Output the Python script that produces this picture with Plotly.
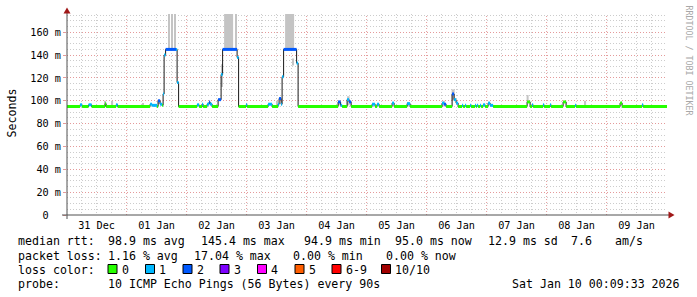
import plotly.graph_objects as go

# ---------------- data ----------------
day_labels = ["31 Dec", "01 Jan", "02 Jan", "03 Jan", "04 Jan",
              "05 Jan", "06 Jan", "07 Jan", "08 Jan", "09 Jan"]
t_start_h = 0.16      # hours after 31 Dec 00:00  (window start)
t_end_h = 240.16      # window end: Sat Jan 10 00:09:33 2026

y_tick_vals = [0, 20, 40, 60, 80, 100, 120, 140, 160]
y_tick_text = ["0\u00a0\u00a0", "20 m", "40 m", "60 m", "80 m",
               "100 m", "120 m", "140 m", "160 m"]

# median rtt steps: start hour, median (ms), lost pings (of 10)
step_h = [0.16, 5.4, 6.2, 8.8, 10.0, 15.4, 15.8, 19.8, 20.4,
          33.4, 34.2, 36.2, 36.6, 37.4, 38.2, 38.6, 39.0, 39.6, 43.8, 44.2, 44.8,
          52.2, 53.0, 54.2, 54.6, 56.2, 57.0, 57.4, 58.2, 60.6, 61.8, 62.4, 68.2, 68.8,
          71.8, 72.2, 80.6, 82.2, 84.6, 85.0, 85.8, 86.2, 86.8, 92.0, 92.6,
          108.6, 109.6, 110.2, 112.2, 113.0, 113.8,
          122.2, 123.4, 124.2, 125.0, 130.2, 131.0, 136.2, 137.4,
          150.2, 151.0, 151.8, 154.2, 155.0, 155.8, 156.6,
          158.2, 158.6, 159.4, 159.8, 161.4, 161.8, 163.4, 163.8, 164.2, 164.6,
          165.4, 165.8, 166.6, 167.4, 168.6, 169.4, 170.6,
          184.2, 185.4, 186.2, 186.6, 190.6, 191.0, 193.4, 193.8,
          198.6, 199.8, 203.4, 203.8, 221.4, 222.2, 230.2, 230.6]
step_ms = [95, 96.5, 95, 96.5, 95, 97.5, 95, 96.5, 95,
           97, 96, 95, 100, 97, 96, 106, 140, 145, 145, 116, 95,
           96.5, 95, 97, 95, 97, 99, 97, 95, 101, 123, 145, 138, 95,
           96.5, 95, 97, 95, 97, 102, 97, 121, 145, 133, 95,
           99, 96, 95, 101, 99, 95,
           97, 95, 97, 95, 98, 95, 97.5, 95,
           98, 97, 95, 106, 101, 98, 95,
           96, 95, 96, 95, 96, 95, 96, 95, 96, 95,
           96, 95, 96.5, 95, 98, 96, 95,
           99, 95, 96.5, 95, 96.5, 95, 96.5, 95,
           99, 95, 96, 95, 98, 95, 96.5, 95]
step_loss = [0, 1, 0, 1, 0, 0, 0, 1, 0,
             1, 1, 0, 2, 1, 0, 1, 1, 2, 1, 1, 0,
             1, 0, 1, 0, 1, 2, 1, 0, 2, 1, 2, 1, 0,
             1, 0, 1, 0, 1, 2, 1, 1, 2, 1, 0,
             2, 1, 0, 1, 2, 0,
             1, 0, 1, 0, 1, 0, 1, 0,
             1, 2, 0, 2, 1, 1, 0,
             1, 0, 1, 0, 1, 0, 1, 0, 1, 0,
             1, 0, 1, 0, 1, 1, 0,
             0, 0, 1, 0, 1, 0, 1, 0,
             0, 0, 1, 0, 0, 0, 1, 0]

# smoke (ping spread): start hour, end hour, low ms, high ms
smoke_t0 = [15.2, 18.0, 30.4, 36.4, 40.6, 41.8, 43.0, 61.8, 63.0, 67.4,
            83.8, 87.4, 90.2, 108.8, 112.2, 136.4, 150.6, 154.0, 184.0, 207.2]
smoke_t1 = [15.8, 18.6, 30.8, 37.2, 41.0, 42.2, 43.4, 62.4, 66.6, 67.8,
            84.4, 91.0, 90.8, 109.4, 113.2, 137.0, 151.4, 155.2, 184.8, 207.8]
smoke_lo = [95, 95, 95, 97, 145, 145, 145, 112, 145, 145,
            95, 145, 131, 96, 96, 95, 95, 100, 99, 95]
smoke_hi = [100, 100, 98, 101, 180, 180, 180, 132, 180, 180,
            100, 180, 137, 100, 104, 99, 100, 110, 105, 100]

loss_names = ["0", "1", "2", "3", "4", "5", "6-9", "10/10"]
loss_colors = ["#26ff00", "#00b8ff", "#0059ff", "#7e00ff",
               "#ff00ff", "#ff5e00", "#ff0000", "#a10000"]

rtt_stats = ["98.9 ms avg", "145.4 ms max", "94.9 ms min", "95.0 ms now",
             "12.9 ms sd", "7.6", "am/s"]
loss_stats = ["1.16 % avg", "17.04 % max", "0.00 % min", "0.00 % now"]
probe_text = "10 ICMP Echo Pings (56 Bytes) every 90s"
stamp_text = "Sat Jan 10 00:09:33 2026"

# ---------------- helpers ----------------
W, H = 697, 297
L, R, T, B = 67, 667, 14, 215


def px(x):
    return (x - L) / (R - L)


def py(y):
    return (B - y) / (B - T)


def loss_cat(n):
    if n <= 5:
        return n
    if n < 10:
        return 6
    return 7


FONT = "DejaVu Sans Mono"

fig = go.Figure()

# smoke
fig.add_trace(go.Bar(
    x=[(a + b) / 2 for a, b in zip(smoke_t0, smoke_t1)],
    width=[b - a for a, b in zip(smoke_t0, smoke_t1)],
    base=smoke_lo,
    y=[h - l for l, h in zip(smoke_lo, smoke_hi)],
    marker=dict(color="#c4c4c4", line=dict(width=0)),
    hoverinfo="skip"))

# black median line
fig.add_trace(go.Scatter(
    x=step_h + [t_end_h], y=step_ms + [step_ms[-1]],
    mode="lines", line=dict(shape="hv", width=1, color="#1a1a1a"),
    hoverinfo="skip"))

# coloured median by loss
ends = step_h[1:] + [t_end_h]
for k, col in enumerate(loss_colors):
    xs, ys = [], []
    for a, b, m, n in zip(step_h, ends, step_ms, step_loss):
        if loss_cat(n) == k:
            xs += [a, b, None]
            ys += [m, m, None]
    if xs:
        fig.add_trace(go.Scatter(x=xs, y=ys, mode="lines",
                                 line=dict(width=3, color=col),
                                 hoverinfo="skip"))

MAJ = "#e49a9a"
MIN = "#cccccc"
DOT = "1px,2px"

noon = [12 + 24 * i for i in range(len(day_labels))]
midnights = [24 * i for i in range(1, 10)]
minor_x = [6 * k for k in range(1, 41) if k % 2 == 1]

fig.update_layout(
    width=W, height=H,
    margin=dict(l=L, r=W - R, t=T, b=H - B),
    paper_bgcolor="white", plot_bgcolor="white",
    showlegend=False, barmode="overlay",
    font=dict(family=FONT, size=10.2, color="black"),
    xaxis=dict(range=[t_start_h, t_end_h], tickmode="array",
               tickvals=noon, ticktext=day_labels,
               showgrid=True, gridcolor=MIN, griddash=DOT, gridwidth=1,
               zeroline=False, showline=False, ticks="",
               ticklabelstandoff=3,
               minor=dict(tickmode="array", tickvals=minor_x, showgrid=True,
                          gridcolor=MIN, griddash=DOT, gridwidth=1),
               fixedrange=True),
    yaxis=dict(range=[0, 176], tickmode="array",
               tickvals=y_tick_vals, ticktext=y_tick_text,
               showgrid=True, gridcolor=MAJ, griddash=DOT, gridwidth=1,
               zeroline=False, showline=False,
               ticks="outside", ticklen=3, tickcolor=MAJ,
               minor=dict(dtick=5, showgrid=True, gridcolor=MIN,
                          griddash=DOT, gridwidth=1),
               fixedrange=True),
)

shapes = []
for m in midnights:
    shapes.append(dict(type="line", xref="x", yref="paper", x0=m, x1=m,
                       y0=0, y1=1, layer="between",
                       line=dict(color=MAJ, width=1, dash=DOT)))
AX = "#505050"
ARW = "#a01818"
shapes.append(dict(type="line", xref="paper", yref="paper",
                   x0=px(67), x1=px(67), y0=py(219), y1=py(11),
                   line=dict(color=AX, width=1), layer="above"))
shapes.append(dict(type="line", xref="paper", yref="paper",
                   x0=px(62), x1=px(670), y0=py(215), y1=py(215),
                   line=dict(color=AX, width=1), layer="above"))
shapes.append(dict(type="path", xref="paper", yref="paper",
                   path=f"M {px(63.5)} {py(13.5)} L {px(70.5)} {py(13.5)} L {px(67)} {py(7.5)} Z",
                   fillcolor=ARW, line=dict(width=0), layer="above"))
shapes.append(dict(type="path", xref="paper", yref="paper",
                   path=f"M {px(668.5)} {py(211.5)} L {px(668.5)} {py(218.5)} L {px(674.5)} {py(215)} Z",
                   fillcolor=ARW, line=dict(width=0), layer="above"))

ann = []


def text(x, y, s, size=11.6, anchor="left", color="black", angle=0):
    ann.append(dict(xref="paper", yref="paper", x=px(x), y=py(y),
                    text=s.replace(" ", "\u00a0"), showarrow=False,
                    xanchor=anchor, yanchor="middle", borderpad=0,
                    textangle=angle,
                    font=dict(family=FONT, size=size, color=color)))


text(11, 113.5, "Seconds", anchor="center", angle=-90)
text(688.5, 60, "RRDTOOL / TOBI OETIKER", size=8.3, anchor="center",
     color="#a8a8a8", angle=90)

Y1, Y2, Y3, Y4 = 241, 255.5, 269.5, 283.5
text(16.5, Y1, "median rtt:")
for xpos, s in zip([107.3, 199.5, 303, 393.5, 486.5, 570, 614], rtt_stats):
    text(xpos, Y1, s)
text(16.5, Y2, "packet loss:")
for xpos, s in zip([107.3, 193.3, 291.7, 385], loss_stats):
    text(xpos, Y2, s)
text(16.5, Y3, "loss color:")
box_x = [108, 145.5, 183, 220, 257.5, 295, 332, 381.5]
for bx, name, col in zip(box_x, loss_names, loss_colors):
    shapes.append(dict(type="rect", xref="paper", yref="paper",
                       x0=px(bx), x1=px(bx + 9), y0=py(264.5), y1=py(273.5),
                       fillcolor=col, line=dict(color="black", width=1),
                       layer="above"))
    text(bx + 12.7, Y3, name)
text(16.5, Y4, "probe:")
text(107.3, Y4, probe_text)
text(681, Y4, stamp_text, anchor="right")

fig.update_layout(shapes=shapes, annotations=ann)
fig.write_html("out.html")
